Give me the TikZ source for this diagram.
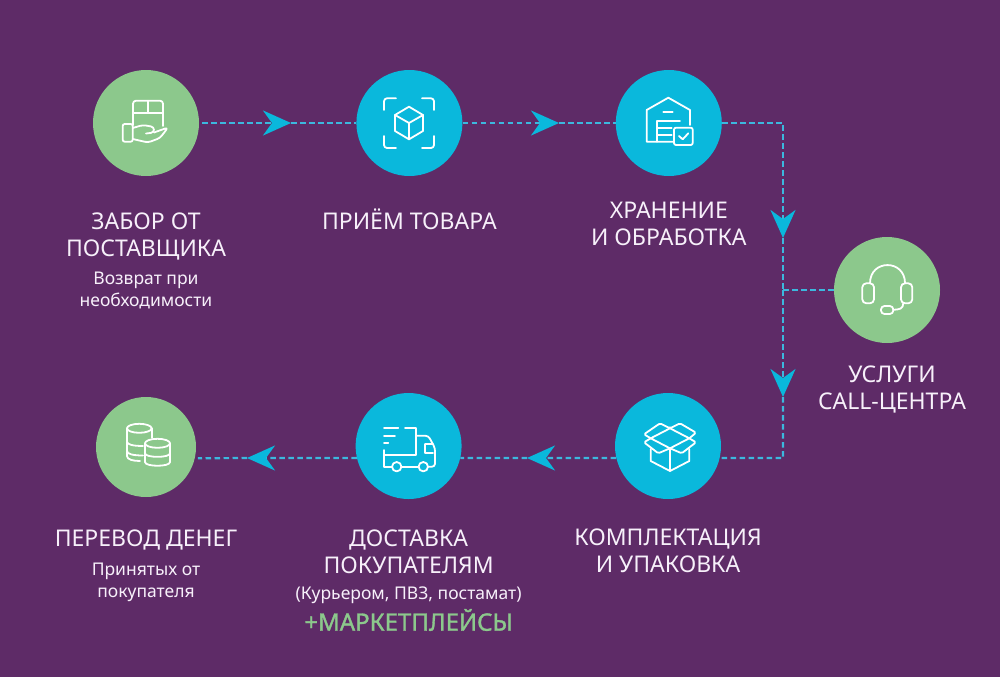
\documentclass[tikz,border=0pt]{standalone}
\usepackage{fontspec}
\setmainfont{Noto Sans}
\newfontfamily\markfont[FakeBold=1.3]{Noto Sans}
\usetikzlibrary{positioning,arrows.meta}
\definecolor{bgpurple}{RGB}{94,43,103}
\definecolor{softgreen}{RGB}{140,200,140}
\definecolor{softblue}{RGB}{10,184,220}
\definecolor{linkblue}{RGB}{60,184,222}
\definecolor{paletext}{RGB}{247,240,250}
\tikzset{
  greencirc/.style={circle,fill=softgreen,minimum size=106pt,inner sep=0pt},
  bluecirc/.style={circle,fill=softblue,minimum size=106pt,inner sep=0pt},
  headtext/.style={align=center,inner sep=0pt,text=paletext,font=\fontsize{23}{27}\selectfont},
  subtext/.style={align=center,inner sep=0pt,text=paletext,font=\fontsize{17.5}{22}\selectfont},
  flowline/.style={draw=linkblue,line width=2.2pt,dash pattern=on 5.5pt off 3.5pt},
  flowtip/.style={flowline,-{Stealth[length=28pt,width=25pt,inset=9pt,color=softblue]}},
  iconline/.style={draw=white,line width=1.8pt,line join=round,line cap=round}
}
\begin{document}
\begin{tikzpicture}[x=1pt,y=-1pt]
  \useasboundingbox[fill=bgpurple] (0,0) rectangle (1000,677);
  % top row
  \node[greencirc] (pick) at (146,123) {};
  \node[bluecirc,right=157pt of pick] (recv) {};
  \node[bluecirc,right=153pt of recv] (store) {};
  \node[greencirc] (call) at (887,290) {};
  % bottom row
  \node[bluecirc] (pack) at (668,446) {};
  \node[bluecirc,left=153pt of pack] (truck) {};
  \node[greencirc,minimum size=100pt] (coins) at (146,447) {};
  % captions
  \node[headtext,below=36pt of pick] (pickT) {ЗАБОР ОТ\\ПОСТАВЩИКА};
  \node[subtext,below=12pt of pickT] (pickS) {Возврат при\\необходимости};
  \node[headtext,below=32pt of recv] (recvT) {ПРИЁМ ТОВАРА};
  \node[headtext,below=26pt of store] (storeT) {ХРАНЕНИЕ\\И ОБРАБОТКА};
  \node[headtext,below=22pt of call,xshift=5pt] (callT) {УСЛУГИ\\CALL-ЦЕНТРА};
  \node[headtext,below=29pt of pack] (packT) {КОМПЛЕКТАЦИЯ\\И УПАКОВКА};
  \node[headtext,below=30pt of truck] (truckT) {ДОСТАВКА\\ПОКУПАТЕЛЯМ};
  \node[subtext,below=13pt of truckT] (truckS) {(Курьером, ПВЗ, постамат)};
  \node[headtext,below=5pt of truckS,text=softgreen,font=\fontsize{24}{28}\markfont] (truckM) {+МАРКЕТПЛЕЙСЫ};
  \node[headtext,below=32pt of coins] (coinsT) {ПЕРЕВОД ДЕНЕГ};
  \node[subtext,below=13pt of coinsT] (coinsS) {Принятых от\\покупателя};
  % connectors
  \coordinate (tipA) at (291,123);
  \coordinate (tipB) at (559,123);
  \coordinate (cornerT) at (783,123);
  \coordinate (tipC) at (783,238);
  \coordinate (branch) at (783,290);
  \coordinate (tipD) at (783,397);
  \coordinate (cornerB) at (783,458);
  \coordinate (tipE) at (527,458);
  \coordinate (tipF) at (247,458);
  \draw[flowtip] ([xshift=3pt]pick.east) -- (tipA);
  \draw[flowline] (tipA) -- (recv.west);
  \draw[flowtip] (recv.east) -- (tipB);
  \draw[flowline] (tipB) -- (store.west);
  \draw[flowtip] (store.east) -- (cornerT) -- (tipC);
  \draw[flowline] (tipC) -- (branch);
  \draw[flowline] (call.west) -- (branch);
  \draw[flowtip] (branch) -- (tipD);
  \draw[flowline] (tipD) -- (cornerB) -- (pack.-13);
  \draw[flowtip] (pack.193) -- (tipE);
  \draw[flowline] (tipE) -- (truck.-13);
  \draw[flowtip] (truck.193) -- (tipF);
  \draw[flowline] (tipF) -- ([xshift=3pt]coins.-13);
  % parcel in hand
  \draw[iconline,rounded corners=3pt] (133,125) -- (133,100.7) -- (163,100.7) -- (163,126);
  \draw[iconline] (133,112.7) -- (163,112.7) (148,100.7) -- (148,112.7);
  \draw[iconline,rounded corners=2pt] (122.7,124) rectangle (132.7,141.7);
  \draw[iconline,rounded corners=3pt] (132.7,128) -- (143,125) -- (154,127) -- (154,132.5) -- (146,133.5);
  \draw[iconline,rounded corners=3pt] (154,132.5) -- (168,127.5) -- (160,138) -- (148,142.5) -- (132.7,139);
  % scan frame and cube
  \draw[iconline,rounded corners=3pt] (384,110) -- (384,98.3) -- (396,98.3);
  \draw[iconline,rounded corners=3pt] (422,98.3) -- (434,98.3) -- (434,110);
  \draw[iconline,rounded corners=3pt] (384,136) -- (384,148) -- (396,148);
  \draw[iconline,rounded corners=3pt] (422,148) -- (434,148) -- (434,136);
  \draw[iconline] (409,106.7) -- (423,115) -- (423,131) -- (409,139.3) -- (395,131) -- (395,115) -- cycle;
  \draw[iconline] (395,115) -- (409,123) -- (423,115) (409,123) -- (409,139.3);
  % warehouse
  \draw[iconline] (673,141.7) -- (646.7,141.7) -- (646.7,110) -- (668.3,97.7) -- (690,110) -- (690,125);
  \draw[iconline] (663.3,111.7) -- (672.7,111.7);
  \draw[iconline] (680,121) -- (657.3,121) -- (657.3,141.7);
  \draw[iconline] (657.3,128.3) -- (671.7,128.3) (657.3,135) -- (671.7,135);
  \draw[iconline,rounded corners=2pt] (674,127.7) rectangle (692.7,145);
  \draw[iconline] (679,136) -- (682.7,139.3) -- (688.3,133.3);
  % headset
  \draw[iconline] (870,283.3) .. controls (870,259) and (905,259) .. (905,283.3);
  \draw[iconline,rounded corners=4pt] (862.3,283.3) rectangle (874,303.3);
  \draw[iconline,rounded corners=4pt] (901,283.3) rectangle (912.3,303.3);
  \draw[iconline] (903.3,303.3) .. controls (903.3,309) and (899,309.5) .. (893.3,309.8);
  \draw[iconline,rounded corners=3.5pt] (881,306) rectangle (893.3,314);
  % open box
  \draw[iconline] (670,428.3) -- (689.3,438.3) -- (670,448.3) -- (650.7,438.3) -- cycle;
  \draw[iconline,rounded corners=1.5pt] (650.7,438.3) -- (644,434.3) -- (660,423.3) -- (670,428.3) -- (680,423.3) -- (696,432.7) -- (689.3,438.3);
  \draw[iconline,rounded corners=1.5pt] (650.7,438.3) -- (644,442.3) -- (658.3,453.3) -- (670,448.3) -- (681.7,453.3) -- (696,442.3) -- (689.3,438.3);
  \draw[iconline] (650.7,449) -- (650.7,461) -- (670,471) -- (689.3,461) -- (689.3,449) (670,448.3) -- (670,471);
  % truck
  \draw[iconline] (384,428.3) -- (398.3,428.3) (384,435.7) -- (395,435.7) (384,443.3) -- (388.3,443.3);
  \draw[iconline] (405,428.3) -- (416,428.3) -- (416,455.3) -- (384,455.3);
  \draw[iconline] (384,450) -- (384,466.7) -- (392,466.7);
  \draw[iconline] (396.7,466.7) circle[radius=4.7pt] (423.3,466.7) circle[radius=4.7pt];
  \draw[iconline] (401.4,466.7) -- (418.6,466.7);
  \draw[iconline,rounded corners=3pt] (416,435.7) -- (428.3,435.7) -- (435,448) -- (435,466.7) -- (428,466.7);
  \draw[iconline] (425,444.3) -- (433,444.3) (433,453.3) -- (425,453.3) -- (425,444.3);
  % coin stacks
  \draw[iconline] (139.3,428.3) ellipse[x radius=12.3pt,y radius=4.5pt];
  \draw[iconline] (127,428.3) -- (127,456) .. controls (127,459.5) and (133,461) .. (140,461);
  \draw[iconline] (151.6,428.3) -- (151.6,438);
  \draw[iconline] (127,441.7) .. controls (127,444.5) and (133,446) .. (143,446);
  \draw[iconline] (127,451) .. controls (127,454) and (133,455.5) .. (143,455.5);
  \draw[iconline] (157.5,443.3) ellipse[x radius=12.5pt,y radius=4.5pt];
  \draw[iconline] (145,443.3) -- (145,462) .. controls (145,467) and (170,467) .. (170,462) -- (170,443.3);
  \draw[iconline] (145,453.3) .. controls (145,458) and (170,458) .. (170,453.3);
\end{tikzpicture}
\end{document}
